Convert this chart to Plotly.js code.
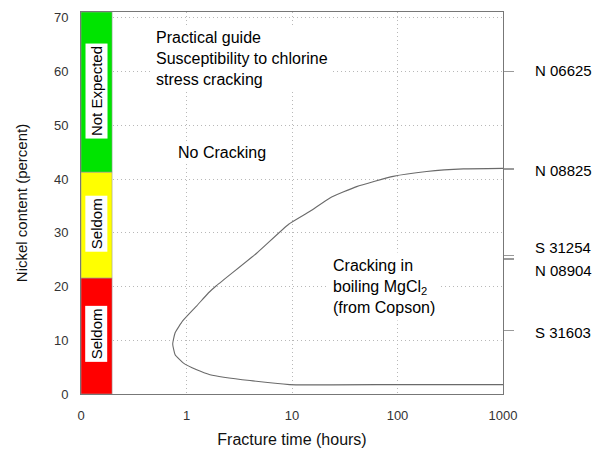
<!DOCTYPE html>
<html>
<head>
<meta charset="utf-8">
<script src="https://cdn.plot.ly/plotly-3.0.1.min.js"></script>
<style>html,body{margin:0;padding:0;background:#fff;}#chart{width:594px;height:450px;}</style>
</head>
<body>
<div id="chart"></div>
<script>
// Curve: Copson cracking boundary (fracture time in hours vs nickel %)
const curveHours = [1000, 100, 9.5, 4.0, 1.67, 1.25, 0.93, 0.78, 0.74, 0.78, 0.92, 1.25, 1.61, 1.93, 4.62, 9.3, 14.8, 22.9, 41, 91, 189, 421, 1000];
const curveNickel = [1.75, 1.75, 1.75, 2.5, 3.6, 4.5, 5.8, 7.3, 9.3, 11.4, 13.6, 16.4, 18.8, 20.2, 26.2, 31.6, 34.0, 36.5, 38.6, 40.5, 41.4, 41.9, 42.0];

// Practical guide band
const zoneNames = ["Seldom", "Seldom", "Not Expected"];
const zoneBounds = [0, 21.6, 41.3, 71.1];
const zoneColors = ["#ff0000", "#ffff00", "#00e400"];
const zoneLabelY = [11.2, 31.7, 56.3];
const bandHours = [0.1, 0.197];

// Alloy markers on right
const alloyNames = ["N 06625", "N 08825", "S 31254", "N 08904", "S 31603"];
const alloyNickel = [60.0, 41.9, 25.8, 25.1, 11.8];
const alloyLabelY = [60.2, 41.6, 27.2, 23.0, 11.5];

// Axis ticks
const xTickVals = [0.1, 1, 10, 100, 1000];
const xTickText = ["0", "1", "10", "100", "1000"];
const yTickVals = [0, 10, 20, 30, 40, 50, 60, 70];

const FONT = "Liberation Sans, Arial, sans-serif";
const traces = [];

for (let i = 0; i < zoneNames.length; i++) {
  traces.push({
    type: "scatter", mode: "lines",
    x: [bandHours[0], bandHours[1], bandHours[1], bandHours[0], bandHours[0]],
    y: [zoneBounds[i], zoneBounds[i], zoneBounds[i+1], zoneBounds[i+1], zoneBounds[i]],
    fill: "toself", fillcolor: zoneColors[i],
    line: {width: 0.6, color: "#9a9a9a"},
    hoverinfo: "skip", showlegend: false
  });
}

traces.push({
  type: "scatter", mode: "lines",
  x: curveHours, y: curveNickel,
  line: {color: "#6a6a6a", width: 1.1, shape: "spline", smoothing: 0.4},
  showlegend: false, hoverinfo: "x+y"
});

// invisible trace on the right axis to carry alloy ticks
traces.push({
  type: "scatter", mode: "markers", x: alloyNickel.map(() => 1000), y: alloyNickel,
  yaxis: "y2", marker: {opacity: 0}, hoverinfo: "skip", showlegend: false
});

const annotations = [];
const logBandMid = (Math.log10(bandHours[0]) + Math.log10(bandHours[1])) / 2;
for (let i = 0; i < zoneNames.length; i++) {
  annotations.push({
    x: logBandMid, y: zoneLabelY[i], xref: "x", yref: "y",
    text: zoneNames[i], showarrow: false, textangle: -90,
    font: {family: FONT, size: 15, color: "#000"},
    bgcolor: "#ffffff", borderpad: 2
  });
}
annotations.push({
  x: -0.33, y: 62.4, xref: "x", yref: "y", xanchor: "left", align: "left",
  text: "Practical guide<br>Susceptibility to chlorine<br>stress cracking",
  showarrow: false, font: {family: FONT, size: 16, color: "#000"},
  bgcolor: "#ffffff", borderpad: 3
});
annotations.push({
  x: 0.332, y: 45.0, xref: "x", yref: "y",
  text: "No Cracking", showarrow: false,
  font: {family: FONT, size: 16, color: "#000"}, bgcolor: "#ffffff", borderpad: 1
});
annotations.push({
  x: 1.345, y: 20.1, xref: "x", yref: "y", xanchor: "left", align: "left",
  text: "Cracking in<br>boiling MgCl<sub>2</sub><br>(from Copson)", showarrow: false,
  font: {family: FONT, size: 16, color: "#000"}, bgcolor: "#ffffff", borderpad: 4
});
for (let i = 0; i < alloyNames.length; i++) {
  annotations.push({
    x: 1.071, y: alloyLabelY[i], xref: "paper", yref: "y",
    xanchor: "left", text: alloyNames[i], showarrow: false,
    font: {family: FONT, size: 15, color: "#000"}
  });
}

const layout = {
  width: 594, height: 450,
  margin: {l: 81, r: 91, t: 12, b: 56},
  paper_bgcolor: "#ffffff", plot_bgcolor: "#ffffff",
  font: {family: FONT, color: "#333"},
  xaxis: {
    type: "log", range: [-1, 3],
    tickvals: xTickVals, ticktext: xTickText,
    tickfont: {size: 13, color: "#333"},
    showgrid: true, gridcolor: "#b8b8b8", griddash: "1px,3px", gridwidth: 1,
    showline: true, linecolor: "#777", linewidth: 1, mirror: true,
    ticks: "", ticklabelstandoff: 9, zeroline: false,
    title: {text: "Fracture time (hours)", font: {size: 16, color: "#111"}, standoff: 12}
  },
  yaxis: {
    range: [0, 71.1], tickvals: yTickVals,
    tickfont: {size: 13, color: "#333"},
    showgrid: true, gridcolor: "#b8b8b8", griddash: "1px,3px", gridwidth: 1,
    showline: true, linecolor: "#777", linewidth: 1, mirror: true,
    ticks: "", ticklabelstandoff: 9, zeroline: false,
    title: {text: "Nickel content (percent)", font: {size: 15, color: "#111"}, standoff: 22}
  },
  yaxis2: {
    overlaying: "y", side: "right", range: [0, 71.1],
    tickvals: alloyNickel, showticklabels: false,
    ticks: "outside", ticklen: 10, tickwidth: 1.5, tickcolor: "#9a9a9a",
    showgrid: false, zeroline: false, showline: false
  },
  annotations: annotations,
  showlegend: false
};

Plotly.newPlot("chart", traces, layout, {displayModeBar: false, staticPlot: true});
</script>
</body>
</html>
